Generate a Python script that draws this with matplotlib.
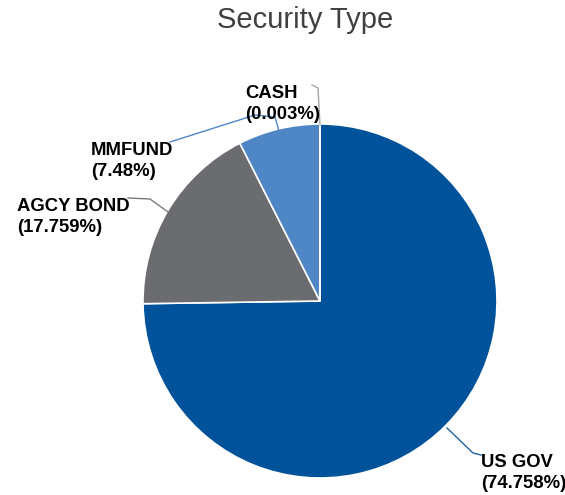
import numpy as np
import matplotlib.pyplot as plt

plt.rcParams['font.family'] = ['Liberation Sans', 'DejaVu Sans']

# 证券类型占比
labels = ['US GOV', 'AGCY BOND', 'MMFUND', 'CASH']
values = [74.758, 17.759, 7.48, 0.003]
colors = ['#00529b', '#6b6c70', '#4f86c6', '#9fb9dc']
line_colors = ['#1f5fa0', '#7a7b7f', '#4f86c6', '#a6a6a6']

W, H = 565, 495
fig = plt.figure(figsize=(W / 100, H / 100), dpi=100)
ax = fig.add_axes([0, 0, 1, 1])

cx, cy, r = 320, H - 301, 177
ax.pie(values, colors=colors, startangle=90, counterclock=False,
       center=(cx, cy), radius=r, frame=True,
       wedgeprops={'edgecolor': 'white', 'linewidth': 1.2})
ax.set_xlim(0, W)
ax.set_ylim(0, H)
ax.set_aspect('equal')
ax.axis('off')

ax.text(305, H - 20, 'Security Type', ha='center', va='center',
        fontsize=21, color='#404040')

# 标签位置（像素坐标，y 从顶部算）
label_pos = [(481, 473), (17, 217), (91, 161), (245, 104)]
leaders = [
    [(447, 428), (473, 453), (481, 455)],
    [(128, 198), (150, 199), (168, 212)],
    [(170, 142), (255, 115), (275, 117), (279, 131)],
    [(312, 85), (318, 88), (320, 125)],
]

for lab, v, (x, y), pts, lc in zip(labels, values, label_pos, leaders, line_colors):
    ax.text(x, H - y, '%s\n(%s%%)' % (lab, ('%.3f' % v).rstrip('0').rstrip('.')),
            ha='left', va='center', fontsize=13.3, fontweight='bold',
            color='black', linespacing=1.3)
    px = [p[0] for p in pts]
    py = [H - p[1] for p in pts]
    ax.plot(px, py, color=lc, lw=1)

fig.savefig('out.png', dpi=100)
